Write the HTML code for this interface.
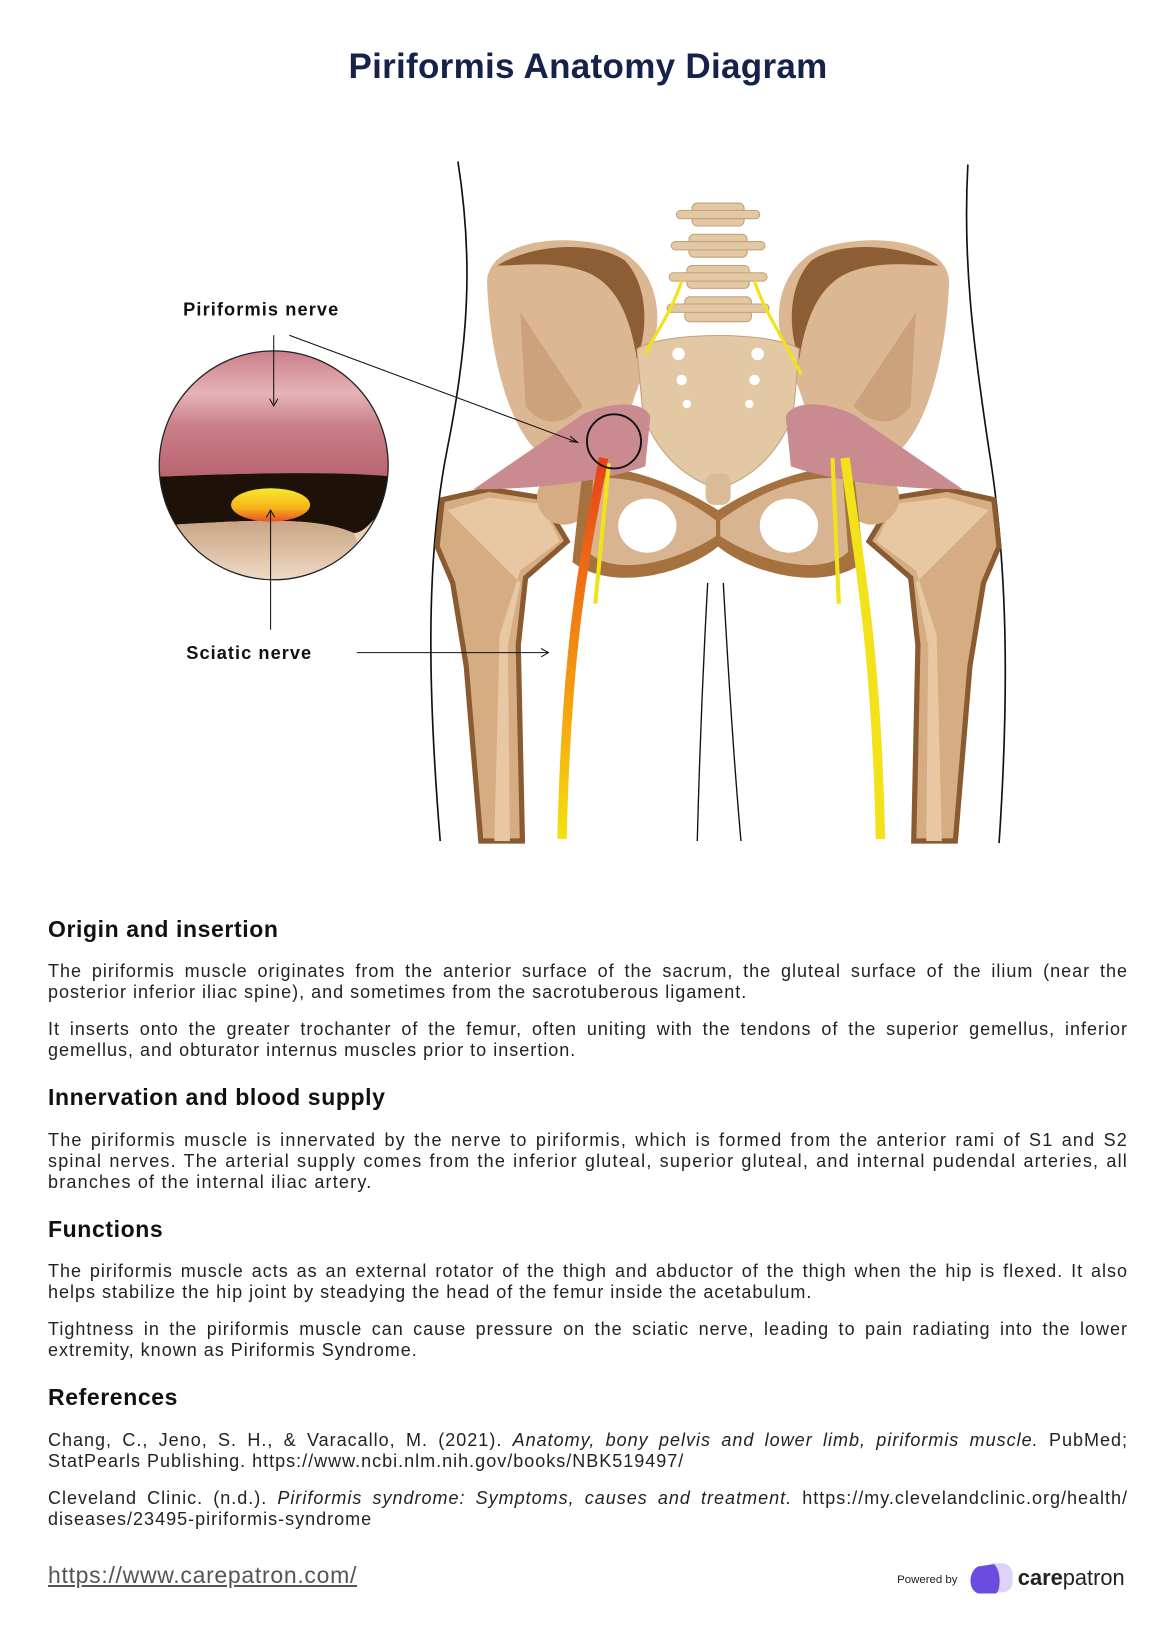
<!DOCTYPE html>
<html><head><meta charset="utf-8"><style>
body{margin:0;width:1176px;height:1630px;position:relative;background:#fff;font-family:"Liberation Sans",sans-serif;color:#222;overflow:hidden}
.t{position:absolute;left:0;width:1176px;text-align:center;top:47px;font-size:35px;font-weight:bold;color:#16224a;letter-spacing:0.3px}
h2{position:absolute;left:48px;margin:0;font-size:23px;letter-spacing:0.6px;font-weight:bold;color:#111}
p{position:absolute;left:48px;width:1080px;margin:0;font-size:18px;line-height:21px;letter-spacing:1px;text-align:justify;text-align-last:left;color:#222}
svg{position:absolute;left:0;top:0}
</style></head><body>
<div class="t">Piriformis Anatomy Diagram</div>
<svg width="1176" height="1630" viewBox="0 0 1130 1566">
<defs>
<linearGradient id="ng" x1="0" y1="0" x2="0" y2="1"><stop offset="0" stop-color="#e8401a"/><stop offset="0.6" stop-color="#f39a10"/><stop offset="1" stop-color="#f5e010"/></linearGradient>
<linearGradient id="pk" x1="0" y1="0" x2="0" y2="1"><stop offset="0" stop-color="#c97c86"/><stop offset="0.35" stop-color="#e6b3b8"/><stop offset="0.6" stop-color="#c98088"/><stop offset="1" stop-color="#b9646f"/></linearGradient>
<linearGradient id="yo" x1="0" y1="0" x2="0" y2="1"><stop offset="0" stop-color="#f7ea2a"/><stop offset="0.6" stop-color="#f5b21a"/><stop offset="1" stop-color="#e8502a"/></linearGradient>
<linearGradient id="bg" x1="0" y1="0" x2="0" y2="1"><stop offset="0" stop-color="#c9a383"/><stop offset="1" stop-color="#f3e2cf"/></linearGradient>
<clipPath id="cc"><circle cx="263" cy="447" r="110"/></clipPath>
</defs>
<path d="M440,155 C455,250 450,330 430,430 C410,530 410,650 423,808" fill="none" stroke="#111" stroke-width="1.6"/>
<path d="M930,158 C925,250 935,330 950,430 C968,540 970,660 960,810" fill="none" stroke="#111" stroke-width="1.6"/>
<path d="M680,560 C675,650 672,730 670,808 M695,560 C700,650 705,730 712,808" fill="none" stroke="#111" stroke-width="1.3"/>
<g id="fem">
<path d="M425,480 L470,470 L520,478 L545,520 L505,555 L498,620 L502,808 L462,808 L448,640 L435,560 L420,525Z" fill="#d6ac83" stroke="#8a5a30" stroke-width="5"/>
<path d="M430,490 L470,478 L520,484 L538,520 L500,548 L480,610 L475,808 L490,808 L488,620 L500,560Z" fill="#e8c7a3"/>
<circle cx="542" cy="478" r="26" fill="#d6ac83"/>
</g>
<use href="#fem" transform="translate(1380,0) scale(-1,1)"/>
<path d="M560,450 C600,445 650,465 690,490 C730,465 780,445 820,450 L830,540 C790,570 720,550 690,525 C660,550 590,570 550,540Z" fill="#a5723f"/>
<path d="M570,460 C610,455 655,475 688,500 L688,515 C650,540 590,555 565,530Z" fill="#d8b490"/>
<path d="M810,460 C770,455 725,475 692,500 L692,515 C730,540 790,555 815,530Z" fill="#d8b490"/>
<ellipse cx="622" cy="505" rx="28" ry="26" fill="#fff"/>
<ellipse cx="758" cy="505" rx="28" ry="26" fill="#fff"/>
<g id="il">
<path d="M468,270 C470,232 540,222 590,238 C630,255 640,300 625,340 L610,380 C600,420 560,450 525,440 C490,420 470,340 468,270Z" fill="#dbb793"/>
<path d="M478,255 C510,235 570,230 600,250 C620,270 625,310 612,345 C605,300 590,270 560,260 C530,250 500,255 478,255Z" fill="#8d5d33"/>
<path d="M500,300 C520,330 540,360 560,390 C540,410 520,410 505,390Z" fill="#c49870" opacity="0.7"/>
</g>
<use href="#il" transform="translate(1380,0) scale(-1,1)"/>
<path d="M612,335 C640,318 740,318 768,335 L762,400 C745,440 720,460 690,470 C660,460 635,440 618,400Z" fill="#e3c8a4" stroke="#c2a078"/>
<rect x="678" y="455" width="24" height="30" rx="8" fill="#d9bb95"/>
<g fill="#e3c8a4" stroke="#c2a078">
<rect x="665" y="195" width="50" height="22" rx="5"/><rect x="650" y="202" width="80" height="8" rx="4"/>
<rect x="662" y="225" width="56" height="22" rx="5"/><rect x="645" y="232" width="90" height="8" rx="4"/>
<rect x="660" y="255" width="60" height="22" rx="5"/><rect x="643" y="262" width="94" height="8" rx="4"/>
<rect x="658" y="285" width="64" height="24" rx="5"/><rect x="641" y="292" width="98" height="8" rx="4"/>
</g>
<g fill="#fff"><circle cx="652" cy="340" r="6"/><circle cx="728" cy="340" r="6"/><circle cx="655" cy="365" r="5"/><circle cx="725" cy="365" r="5"/><circle cx="660" cy="388" r="4"/><circle cx="720" cy="388" r="4"/></g>
<path d="M455,470 L560,398 C590,385 618,385 625,400 L620,448 C580,462 520,470 455,470Z" fill="#c98a90"/>
<path d="M925,470 L820,398 C790,385 762,385 755,400 L760,448 C800,462 860,470 925,470Z" fill="#c98a90"/>
<path d="M655,270 C645,300 630,320 620,340" stroke="#f2e21a" stroke-width="3" fill="none"/>
<path d="M725,270 C735,300 750,320 770,360" stroke="#f2e21a" stroke-width="3" fill="none"/>
<path d="M585,445 L572,580" stroke="#f2e21a" stroke-width="4" fill="none"/>
<path d="M580,440 C565,520 545,600 540,806" stroke="url(#ng)" stroke-width="9" fill="none"/>
<path d="M800,440 L806,580" stroke="#f2e21a" stroke-width="4" fill="none"/>
<path d="M812,440 C825,540 842,620 846,806" stroke="#f2e21a" stroke-width="9" fill="none"/>
<circle cx="590" cy="424" r="26" fill="none" stroke="#111" stroke-width="1.8"/>
<g clip-path="url(#cc)">
<rect x="150" y="335" width="230" height="230" fill="#e8d2bc"/>
<path d="M150,335 H380 V458 C320,452 220,455 150,458Z" fill="url(#pk)"/>
<path d="M150,458 C220,455 320,452 380,458 L380,470 C360,500 350,512 340,512 C300,495 240,500 150,505Z" fill="#1e1208"/>
<path d="M150,505 C240,500 300,495 340,512 L360,565 H150Z" fill="url(#bg)"/>
</g>
<circle cx="263" cy="447" r="110" fill="none" stroke="#222" stroke-width="1.2"/>
<ellipse cx="260" cy="485" rx="38" ry="16" fill="url(#yo)"/>
<g font-family="Liberation Sans,sans-serif" font-weight="bold" font-size="17.5" fill="#111">
<text x="176" y="303" textLength="149">Piriformis nerve</text>
<text x="179" y="633" textLength="120">Sciatic nerve</text>
</g>
<g stroke="#111" stroke-width="1" fill="none">
<path d="M263,322 V388 M259,383 L263,390 L267,383"/>
<path d="M278,322 L555,425 M548,419 L555,425 L547,424"/>
<path d="M260,605 V490 M256,497 L260,490 L264,497"/>
<path d="M343,627 H527 M520,623 L527,627 L520,631"/>
</g>
<text x="862" y="1521" font-family="Liberation Sans,sans-serif" font-size="11" fill="#222">Powered by</text>
<rect x="945" y="1502" width="28" height="28" rx="10" fill="#ddd3f6"/>
<path d="M940,1505 C930,1510 930,1528 940,1531 L957,1531 C962,1528 962,1508 955,1503Z" fill="#6b4be0"/>
<text x="978" y="1523" font-family="Liberation Sans,sans-serif" font-size="21" fill="#222"><tspan font-weight="bold">care</tspan>patron</text>
</svg>
<h2 style="top:916px">Origin and insertion</h2>
<p style="top:961px">The piriformis muscle originates from the anterior surface of the sacrum, the gluteal surface of the ilium (near the posterior inferior iliac spine), and sometimes from the sacrotuberous ligament.</p>
<p style="top:1019px">It inserts onto the greater trochanter of the femur, often uniting with the tendons of the superior gemellus, inferior gemellus, and obturator internus muscles prior to insertion.</p>
<h2 style="top:1084px">Innervation and blood supply</h2>
<p style="top:1130px;letter-spacing:1.2px">The piriformis muscle is innervated by the nerve to piriformis, which is formed from the anterior rami of S1 and S2 spinal nerves. The arterial supply comes from the inferior gluteal, superior gluteal, and internal pudendal arteries, all branches of the internal iliac artery.</p>
<h2 style="top:1216px">Functions</h2>
<p style="top:1261px">The piriformis muscle acts as an external rotator of the thigh and abductor of the thigh when the hip is flexed. It also helps stabilize the hip joint by steadying the head of the femur inside the acetabulum.</p>
<p style="top:1319px">Tightness in the piriformis muscle can cause pressure on the sciatic nerve, leading to pain radiating into the lower extremity, known as Piriformis Syndrome.</p>
<h2 style="top:1384px">References</h2>
<p style="top:1430px">Chang, C., Jeno, S. H., &amp; Varacallo, M. (2021). <i>Anatomy, bony pelvis and lower limb, piriformis muscle.</i> PubMed; StatPearls Publishing. https://www.ncbi.nlm.nih.gov/books/NBK519497/</p>
<p style="top:1488px">Cleveland Clinic. (n.d.). <i>Piriformis syndrome: Symptoms, causes and treatment.</i> https://my.clevelandclinic.org/health/ diseases/23495-piriformis-syndrome</p>
<div style="position:absolute;left:48px;top:1562px;font-size:23px;letter-spacing:0.7px;color:#555;text-decoration:underline">https://www.carepatron.com/</div>
</body></html>
